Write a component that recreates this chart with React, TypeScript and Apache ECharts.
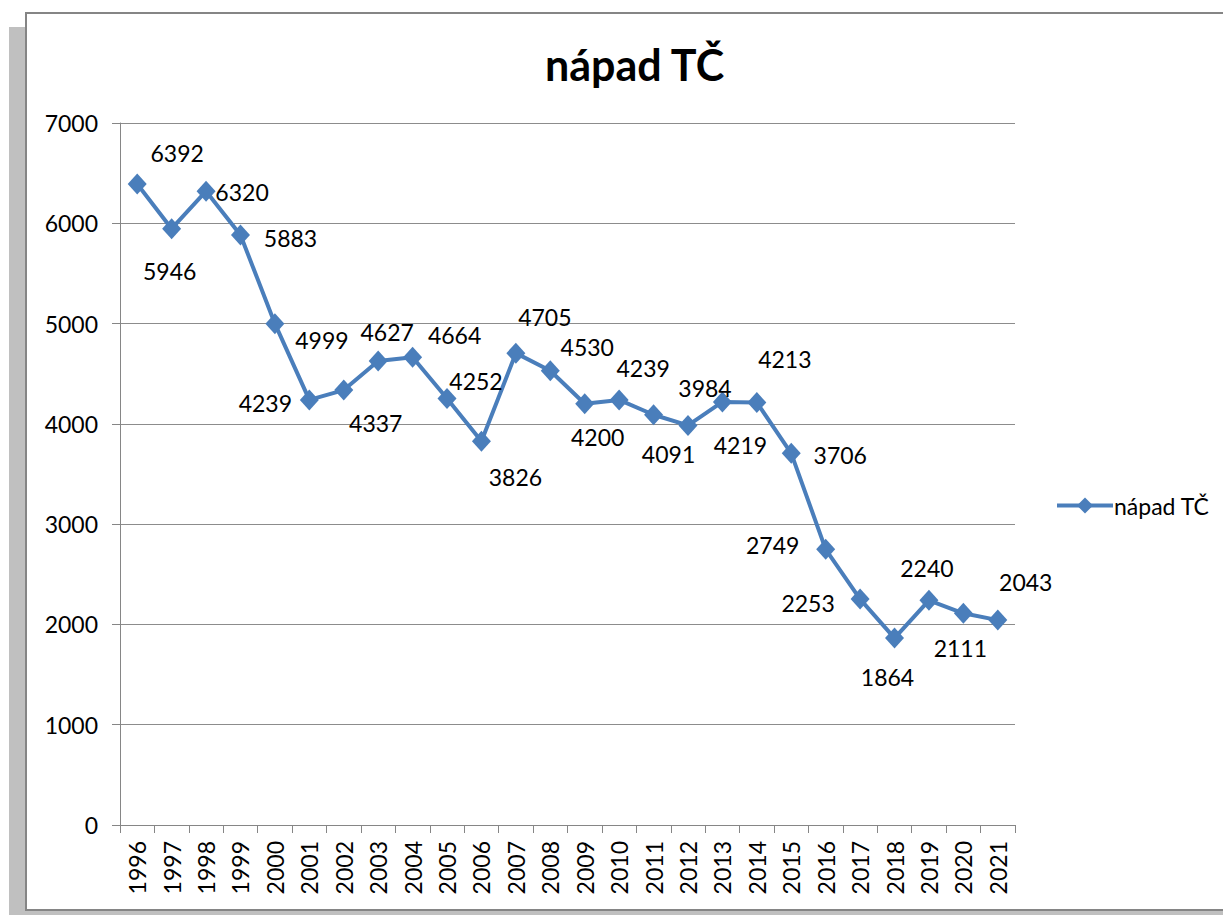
import React, { useEffect, useRef } from "react";
import * as echarts from "echarts";

const YEARS = [
  "1996", "1997", "1998", "1999", "2000", "2001", "2002", "2003", "2004",
  "2005", "2006", "2007", "2008", "2009", "2010", "2011", "2012", "2013",
  "2014", "2015", "2016", "2017", "2018", "2019", "2020", "2021",
];

const NAPAD_TC = [
  6392, 5946, 6320, 5883, 4999, 4239, 4337, 4627, 4664, 4252, 3826, 4705,
  4530, 4200, 4239, 4091, 3984, 4219, 4213, 3706, 2749, 2253, 1864, 2240,
  2111, 2043,
];

const SERIES_NAME = "nápad TČ";
const Y_TICKS = { min: 0, max: 7000, interval: 1000 };

// label offsets (px) relative to each marker, imitating the reference placement
const LABEL_OFFSETS: [number, number][] = [
  [40, -31], [-2, 42], [36, 1], [50, 3], [47, 16], [-44, 3], [32, 33],
  [9, -29], [42, -22], [29, -18], [34, 36], [29, -36], [37, -24], [13, 33],
  [24, -32], [15, 39], [17, -37], [18, 43], [28, -43], [49, 2], [-53, -4],
  [-52, 4], [-7, 39], [-2, -32], [-3, 35], [28, -38],
];

const FONT = "Lato, 'DejaVu Sans', sans-serif";
const BLUE = "#4A7EBB";

export default function App() {
  const ref = useRef<HTMLDivElement>(null);

  useEffect(() => {
    if (!ref.current) return;
    const chart = echarts.init(ref.current, undefined, { renderer: "svg" });
    chart.setOption({
      animation: false,
      backgroundColor: "#ffffff",
      title: {
        text: SERIES_NAME,
        left: 540,
        top: 38,
        textStyle: {
          fontFamily: FONT,
          fontSize: 43,
          fontWeight: "bold",
          color: "#000000",
        },
      },
      graphic: [
        {
          type: "rect",
          z: -100,
          shape: { x: 9, y: 27, width: 17, height: 888 },
          style: { fill: "#c0c0c0" },
        },
        {
          type: "rect",
          z: -100,
          shape: { x: 9, y: 911, width: 1214, height: 4 },
          style: { fill: "#c0c0c0" },
        },
        {
          type: "rect",
          z: -99,
          shape: { x: 26, y: 13, width: 1210, height: 897 },
          style: { fill: "#ffffff", stroke: "#858585", lineWidth: 2 },
        },
      ],
      legend: {
        left: 1050,
        top: 489,
        orient: "vertical",
        itemWidth: 56,
        itemHeight: 20,
        itemGap: 4,
        itemStyle: { color: BLUE },
        lineStyle: { width: 4, color: BLUE },
        textStyle: { fontFamily: FONT, fontSize: 23, color: "#000000", padding: [0, 0, 0, -4] },
        data: [SERIES_NAME],
      },
      grid: { left: 120, right: 208, top: 123, bottom: 90, containLabel: false },
      xAxis: {
        type: "category",
        data: YEARS,
        boundaryGap: true,
        axisLine: { show: true, lineStyle: { color: "#868686", width: 1 } },
        axisTick: { show: true, alignWithLabel: false, length: 8, lineStyle: { color: "#868686" } },
        axisLabel: {
          rotate: 90,
          margin: 16,
          interval: 0,
          fontFamily: FONT,
          fontSize: 23,
          color: "#000000",
        },
        splitLine: { show: false },
      },
      yAxis: {
        type: "value",
        min: Y_TICKS.min,
        max: Y_TICKS.max,
        interval: Y_TICKS.interval,
        axisLine: { show: true, lineStyle: { color: "#868686", width: 1 } },
        axisTick: { show: true, length: 8, lineStyle: { color: "#868686" } },
        axisLabel: {
          margin: 22,
          fontFamily: FONT,
          fontSize: 23,
          color: "#000000",
          formatter: (v: number) => String(v),
        },
        splitLine: { show: true, lineStyle: { color: "#8c8c8c", width: 1 } },
      },
      series: [
        {
          name: SERIES_NAME,
          type: "line",
          data: NAPAD_TC.map((v, i) => ({
            value: v,
            label: { offset: LABEL_OFFSETS[i] },
          })),
          symbol: "diamond",
          symbolSize: [19, 21],
          itemStyle: { color: BLUE },
          lineStyle: { color: BLUE, width: 4 },
          label: {
            show: true,
            position: "inside",
            fontFamily: FONT,
            fontSize: 23,
            color: "#000000",
          },
        },
      ],
    });
    return () => chart.dispose();
  }, []);

  return (
    <div
      ref={ref}
      style={{ position: "absolute", left: 0, top: 0, width: 1223, height: 915 }}
    />
  );
}
